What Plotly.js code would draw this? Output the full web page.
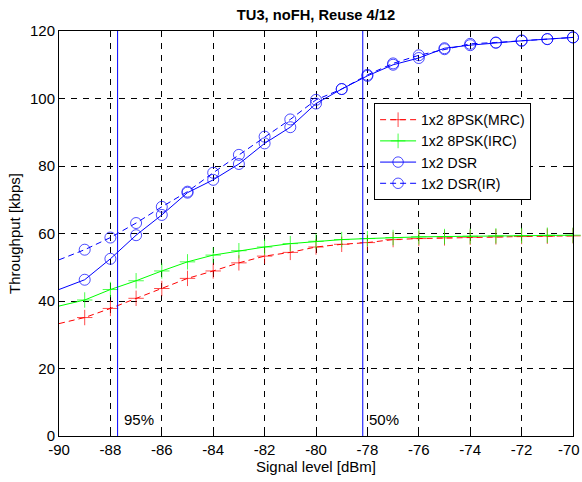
<!DOCTYPE html>
<html>
<head>
<meta charset="utf-8">
<script src="https://cdn.plot.ly/plotly-3.0.1.min.js"></script>
<style>
  html, body { margin: 0; padding: 0; background: #fff; }
  #chart { width: 582px; height: 482px; }
</style>
</head>
<body>
<div id="chart"></div>
<script>
// Signal level [dBm]
const signalLevel = [-90, -89, -88, -87, -86, -85, -84, -83, -82, -81, -80,
                     -79, -78, -77, -76, -75, -74, -73, -72, -71, -70];
// Throughput [kbps]
const psk8MRC = [33.3, 35.1, 37.8, 40.8, 43.7, 46.7, 48.9, 51.3, 53.3, 54.4, 56.0,
                 56.8, 57.3, 58.2, 58.5, 58.7, 58.9, 59.0, 59.1, 59.2, 59.3];
const psk8IRC = [38.5, 40.3, 43.4, 46.0, 48.9, 51.6, 53.6, 54.9, 56.0, 57.0, 57.7,
                 58.2, 58.5, 58.8, 59.0, 59.1, 59.2, 59.3, 59.4, 59.5, 59.5];
const dsr     = [43.4, 46.3, 52.5, 59.5, 65.5, 72.1, 75.9, 80.6, 86.7, 91.5, 98.5,
                 102.8, 106.7, 110.0, 112.0, 114.9, 115.8, 116.5, 117.1, 117.6, 118.1];
const dsrIR   = [52.2, 55.2, 58.8, 63.1, 67.9, 72.4, 78.0, 83.3, 88.7, 93.8, 99.6,
                 102.8, 107.0, 110.4, 112.8, 114.6, 116.2, 116.6, 117.2, 117.6, 118.1];
const seriesNames = ['1x2 8PSK(MRC)', '1x2 8PSK(IRC)', '1x2 DSR', '1x2 DSR(IR)'];
// Coverage thresholds
const thresholdLevel = [-87.72, -78.18];
const thresholdLabel = ['95%', '50%'];
// Axis ticks
const xTicks = [-90, -88, -86, -84, -82, -80, -78, -76, -74, -72, -70];
const xTickText = ['-90', '-88', '-86', '-84', '-82', '-80', '-78', '-76', '-74', '-72', '-70\u00a0\u00a0'];
const yTicks = [0, 20, 40, 60, 80, 100, 120];
const yRange = [0, 120];

const FONT = 'Liberation Sans, Arial, sans-serif';
const FS = 15;
// marker on every point except the left edge start
const mSize = signalLevel.map((v, i) => i === 0 ? 0 : 11);

function series(y, name, color, dash, symbol) {
  return {
    x: signalLevel, y: y, name: name, type: 'scatter', mode: 'lines+markers',
    cliponaxis: false,
    line: {color: color, width: 1, dash: dash},
    marker: {symbol: symbol, size: mSize, color: color, line: {color: color, width: 1}}
  };
}

const traces = [
  series(psk8MRC, seriesNames[0], '#ff0000', '6px,4px', 'cross-thin-open'),
  series(psk8IRC, seriesNames[1], '#00ff00', 'solid', 'cross-thin-open'),
  series(dsr, seriesNames[2], '#0000ff', 'solid', 'circle-open'),
  series(dsrIR, seriesNames[3], '#0000ff', '6px,4px', 'circle-open')
];
thresholdLevel.forEach(t => {
  traces.push({
    x: [t, t], y: yRange, type: 'scatter', mode: 'lines', showlegend: false,
    hoverinfo: 'skip', line: {color: '#0000ff', width: 1}
  });
});

const annotations = thresholdLevel.map((t, i) => ({
  x: t, y: 5, xref: 'x', yref: 'y', text: thresholdLabel[i], showarrow: false,
  xanchor: 'left', yanchor: 'middle', xshift: 4,
  font: {family: FONT, size: FS, color: '#000'}
}));

const axisCommon = {
  showline: true, linecolor: '#000', linewidth: 1, mirror: 'ticks',
  ticks: 'inside', ticklen: 5, tickcolor: '#000',
  showgrid: true, gridcolor: '#000', gridwidth: 1, griddash: '6px,6px',
  zeroline: false, tickfont: {family: FONT, size: FS, color: '#000'},
  ticklabeloverflow: 'allow', automargin: false
};

const layout = {
  width: 582, height: 482,
  margin: {l: 59, r: 9, t: 31, b: 46},
  paper_bgcolor: '#fff', plot_bgcolor: '#fff',
  font: {family: FONT, size: FS, color: '#000'},
  title: {
    text: '<b>TU3, noFH, Reuse 4/12</b>',
    font: {family: FONT, size: 14.7, color: '#000'},
    x: 0.5, xref: 'paper', y: 1 - 15 / 482, yref: 'container', yanchor: 'middle'
  },
  xaxis: Object.assign({}, axisCommon, {
    range: [-90, -70], tickmode: 'array', tickvals: xTicks,
    ticktext: xTickText,
    title: {text: 'Signal level [dBm]', font: {family: FONT, size: FS, color: '#000'}, standoff: 2}
  }),
  yaxis: Object.assign({}, axisCommon, {
    range: yRange, tickmode: 'array', tickvals: yTicks,
    ticktext: yTicks.map(String),
    title: {text: 'Throughput [kbps]', font: {family: FONT, size: FS, color: '#000'}, standoff: 5}
  }),
  legend: {
    x: 0.613, y: 0.822, xanchor: 'left', yanchor: 'top',
    bgcolor: '#fff', bordercolor: '#000', borderwidth: 1,
    font: {family: FONT, size: 14, color: '#000'},
    itemwidth: 36, tracegroupgap: 0
  },
  annotations: annotations,
  showlegend: true
};

Plotly.newPlot('chart', traces, layout, {displayModeBar: false, staticPlot: true});
</script>
</body>
</html>
